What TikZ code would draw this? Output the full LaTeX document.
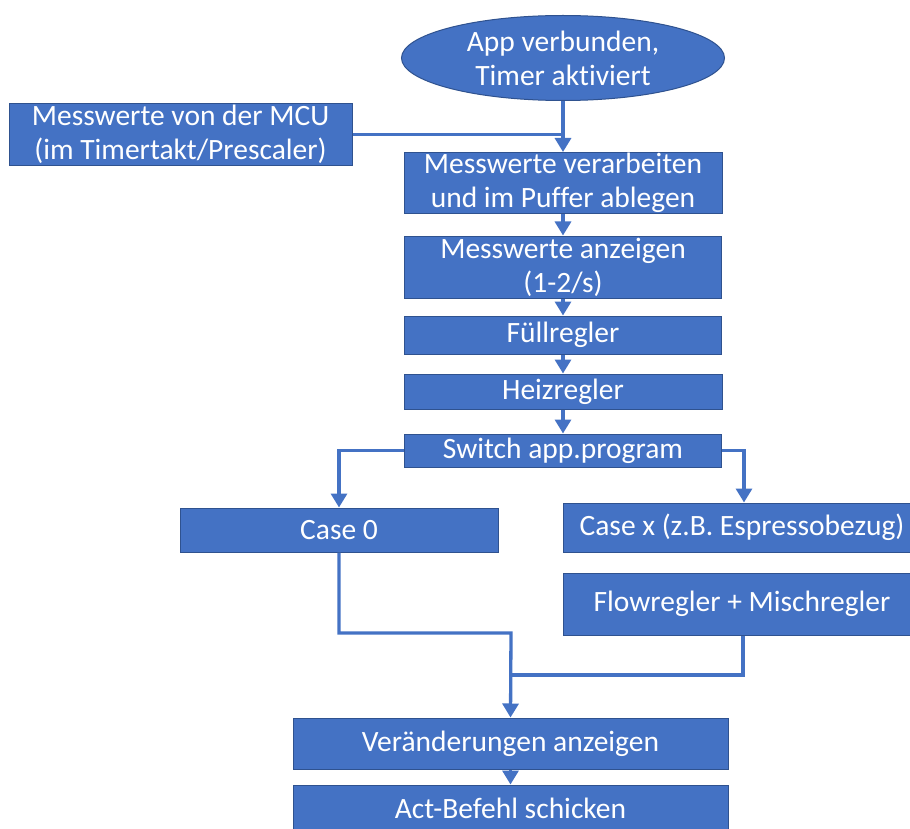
\documentclass[tikz,border=0pt]{standalone}
\usepackage{fontspec}
\setmainfont{Carlito}[Ligatures=NoCommon]
\usetikzlibrary{arrows.meta,shapes.geometric}
\definecolor{ob}{HTML}{4472C4}
\definecolor{obd}{HTML}{2F528F}
\begin{document}
\begin{tikzpicture}[x=1pt,y=-1pt,
  box/.style={rectangle, fill=ob, draw=obd, line width=1pt, text=white, inner sep=0pt, align=center, font=\fontsize{29.5}{34}\selectfont},
  conn/.style={draw=ob, line width=3.3pt, line join=miter},
  arr/.style={conn, -{Triangle[width=16pt,length=14pt]}}]
\path[use as bounding box] (0,0) rectangle (910,829);

\node[box, ellipse, minimum width=323pt, minimum height=85pt] (ell) at (563,58) {App verbunden,\\Timer aktiviert};
\node[box, minimum width=343pt, minimum height=62pt] (mcu) at (180.5,134.5) {Messwerte von der MCU\\(im Timertakt/Prescaler)};
\node[box, minimum width=318pt, minimum height=61pt] (verarb) at (563,183) {Messwerte verarbeiten\\und im Puffer ablegen};
\node[box, minimum width=317pt, minimum height=62pt] (anz) at (563,267) {Messwerte anzeigen\\(1-2/s)};
\node[box, minimum width=317pt, minimum height=38pt] (fuell) at (563,335) {Füllregler};
\node[box, minimum width=318pt, minimum height=35pt] (heiz) at (563,391.5) {Heizregler};
\node[box, minimum width=317pt, minimum height=33pt] (sw) at (563,450.5) {Switch app.program};
\node[box, minimum width=318pt, minimum height=44pt] (case0) at (339,530) {Case 0};
\node[box, minimum width=358pt, minimum height=49pt] (casex) at (742,527.5) {Case x (z.B. Espressobezug)};
\node[box, minimum width=358pt, minimum height=62pt] (flow) at (742,604) {Flowregler + Mischregler};
\node[box, minimum width=435pt, minimum height=51pt] (ver) at (510.5,743.5) {Veränderungen anzeigen};
\node[box, minimum width=435pt, minimum height=46pt] (act) at (510.5,808) {Act-Befehl schicken};

\coordinate (jl) at (511,633);
\coordinate (jr) at (511,675);

\draw[arr] (ell.south) -- (verarb.north);
\draw[conn] (mcu.east) -- ([xshift=1.65pt]mcu.east -| verarb.north);
\draw[arr] (verarb.south) -- (anz.north);
\draw[arr] (anz.south) -- (fuell.north);
\draw[arr] (fuell.south) -- (heiz.north);
\draw[arr] (heiz.south) -- (sw.north);
\draw[arr] (sw.west) -| (case0.north);
\draw[arr] (sw.east) -| ([xshift=2pt]casex.north);
\draw[arr] (case0.south) |- (jl) -- (ver.north);
\draw[conn] ([xshift=1pt]flow.south) |- ([xshift=-1.65pt]jr);
\draw[arr] (ver.south) -- (act.north);
\end{tikzpicture}
\end{document}
